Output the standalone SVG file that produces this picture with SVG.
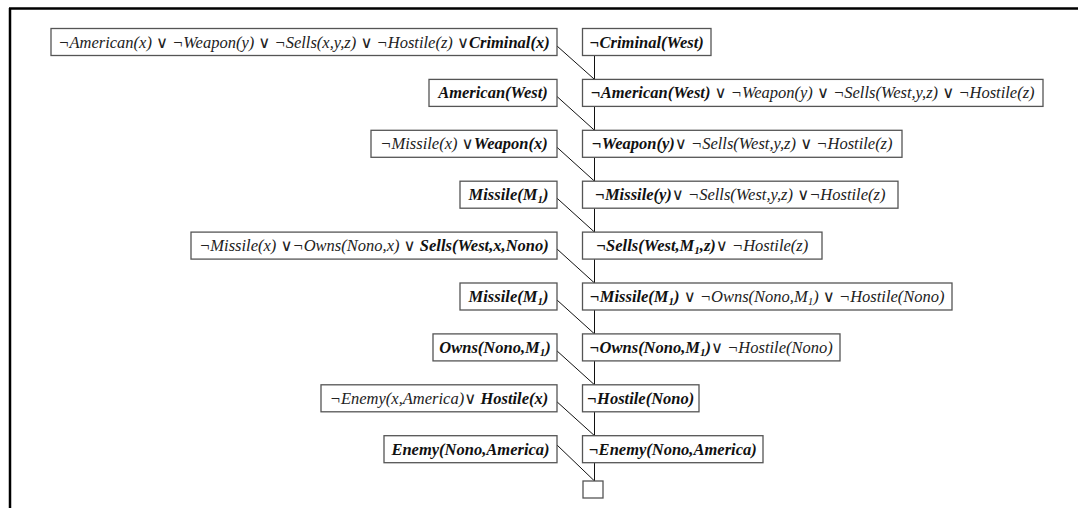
<svg xmlns="http://www.w3.org/2000/svg" width="1078" height="508" viewBox="0 0 1078 508">
<style>
.box{fill:#fff;stroke:#555;stroke-width:1.3}
text{font-family:'Liberation Serif','DejaVu Serif',serif;font-size:16.5px;font-style:italic;text-anchor:middle;fill:#222}
.b{font-weight:bold;fill:#111}
.o{font-family:'DejaVu Sans',sans-serif;font-style:normal;font-weight:normal;font-size:16.5px}
.s{font-size:11px}
.c{stroke:#111;stroke-width:1;fill:none}
.f{stroke:#000;stroke-width:2.5;fill:none}
</style>
<g id="frame">
<path class="f" d="M9,8.5 H1078 M10,8 V508"/>
</g>
<g id="connectors">
<path class="c" d="M594.5,55.5 V79.4 M594.5,106.4 V130.3 M594.5,157.3 V181.2 M594.5,208.2 V232.1 M594.5,259.1 V283 M594.5,310 V333.9 M594.5,360.9 V384.8 M594.5,411.8 V435.7 M594.5,462.7 V481"/>
<path class="c" d="M557,46 L594.5,79.4 M557,96.5 L594.5,130.3 M557,147.3 L594.5,181.2 M557,198.2 L594.5,232.1 M557,249 L594.5,283 M557,300 L594.5,333.9 M557,350.9 L594.5,384.8 M557,401.8 L594.5,435.7 M557,445 L594.5,481"/>
</g>
<g id="L0"><rect class="box" x="51" y="28.5" width="506" height="27"/>
<text x="304" y="47.5">¬American(x) <tspan class="o">∨</tspan> ¬Weapon(y) <tspan class="o">∨</tspan> ¬Sells(x,y,z) <tspan class="o">∨</tspan> ¬Hostile(z) <tspan class="o">∨</tspan><tspan class="b">Criminal(x)</tspan></text></g>
<g id="R0"><rect class="box" x="582.5" y="28.5" width="128.5" height="27"/>
<text class="b" x="646.7" y="47.5">¬Criminal(West)</text></g>
<g id="L1"><rect class="box" x="429" y="79.4" width="128" height="27"/>
<text class="b" x="493" y="98.4">American(West)</text></g>
<g id="R1"><rect class="box" x="582.5" y="79.4" width="460.5" height="27"/>
<text x="812.7" y="98.4"><tspan class="b">¬American(West)</tspan> <tspan class="o">∨</tspan> ¬Weapon(y) <tspan class="o">∨</tspan> ¬Sells(West,y,z) <tspan class="o">∨</tspan> ¬Hostile(z)</text></g>
<g id="L2"><rect class="box" x="371" y="130.3" width="186" height="27"/>
<text x="464" y="149.3">¬Missile(x) <tspan class="o">∨</tspan><tspan class="b">Weapon(x)</tspan></text></g>
<g id="R2"><rect class="box" x="582.5" y="130.3" width="319.5" height="27"/>
<text x="742.2" y="149.3"><tspan class="b">¬Weapon(y)</tspan><tspan class="o">∨</tspan> ¬Sells(West,y,z) <tspan class="o">∨</tspan> ¬Hostile(z)</text></g>
<g id="L3"><rect class="box" x="460" y="181.2" width="97" height="27"/>
<text class="b" x="508.5" y="200.2">Missile(M<tspan class="s" dy="3">1</tspan><tspan dy="-3">)</tspan></text></g>
<g id="R3"><rect class="box" x="582.5" y="181.2" width="315.5" height="27"/>
<text x="740.2" y="200.2"><tspan class="b">¬Missile(y)</tspan><tspan class="o">∨</tspan> ¬Sells(West,y,z) <tspan class="o">∨</tspan>¬Hostile(z)</text></g>
<g id="L4"><rect class="box" x="191" y="232.1" width="366" height="27"/>
<text x="374" y="251.1">¬Missile(x) <tspan class="o">∨</tspan>¬Owns(Nono,x) <tspan class="o">∨</tspan> <tspan class="b">Sells(West,x,Nono)</tspan></text></g>
<g id="R4"><rect class="box" x="582.5" y="232.1" width="239.5" height="27"/>
<text x="702.2" y="251.1"><tspan class="b">¬Sells(West,M<tspan class="s" dy="3">1</tspan><tspan dy="-3">,z)</tspan></tspan><tspan class="o">∨</tspan> ¬Hostile(z)</text></g>
<g id="L5"><rect class="box" x="460" y="283" width="97" height="27"/>
<text class="b" x="508.5" y="302">Missile(M<tspan class="s" dy="3">1</tspan><tspan dy="-3">)</tspan></text></g>
<g id="R5"><rect class="box" x="582.5" y="283" width="369.5" height="27"/>
<text x="767.2" y="302"><tspan class="b">¬Missile(M<tspan class="s" dy="3">1</tspan><tspan dy="-3">)</tspan></tspan> <tspan class="o">∨</tspan> ¬Owns(Nono,M<tspan class="s" dy="3">1</tspan><tspan dy="-3">)</tspan> <tspan class="o">∨</tspan> ¬Hostile(Nono)</text></g>
<g id="L6"><rect class="box" x="433" y="333.9" width="124" height="27"/>
<text class="b" x="495" y="352.9">Owns(Nono,M<tspan class="s" dy="3">1</tspan><tspan dy="-3">)</tspan></text></g>
<g id="R6"><rect class="box" x="582.5" y="333.9" width="257.5" height="27"/>
<text x="711.2" y="352.9"><tspan class="b">¬Owns(Nono,M<tspan class="s" dy="3">1</tspan><tspan dy="-3">)</tspan></tspan><tspan class="o">∨</tspan> ¬Hostile(Nono)</text></g>
<g id="L7"><rect class="box" x="321" y="384.8" width="236" height="27"/>
<text x="439" y="403.8">¬Enemy(x,America)<tspan class="o">∨</tspan> <tspan class="b">Hostile(x)</tspan></text></g>
<g id="R7"><rect class="box" x="582.5" y="384.8" width="116.5" height="27"/>
<text class="b" x="640.7" y="403.8">¬Hostile(Nono)</text></g>
<g id="L8"><rect class="box" x="384" y="435.7" width="173" height="27"/>
<text class="b" x="470.5" y="454.7">Enemy(Nono,America)</text></g>
<g id="R8"><rect class="box" x="582.5" y="435.7" width="180.5" height="27"/>
<text class="b" x="672.7" y="454.7">¬Enemy(Nono,America)</text></g>
<g id="empty"><rect class="box" x="583" y="481" width="20" height="17"/></g>
</svg>
